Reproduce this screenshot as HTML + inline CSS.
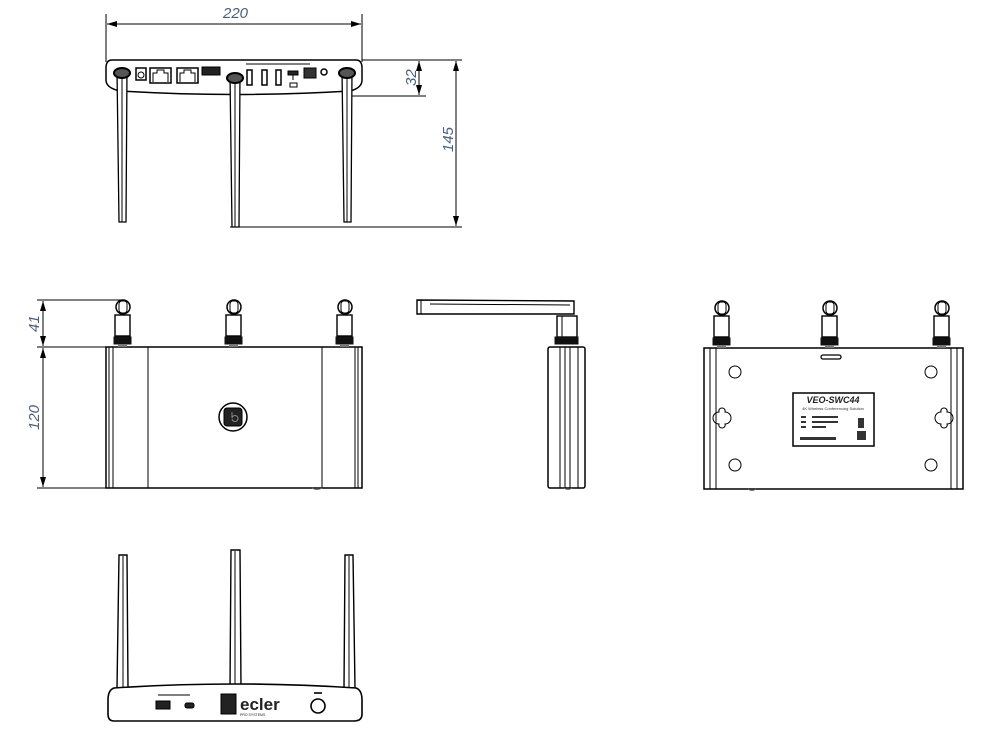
<!DOCTYPE html>
<html><head><meta charset="utf-8"><style>
html,body{margin:0;padding:0;background:#fff;}
svg{display:block;}
.d{font-family:"Liberation Sans",sans-serif;font-style:italic;fill:#4a5f7a;font-size:15px;}
</style></head><body>
<svg width="1000" height="733" viewBox="0 0 1000 733" xmlns="http://www.w3.org/2000/svg">
<defs>
<marker id="a" markerWidth="10" markerHeight="6" refX="10" refY="3" orient="auto" markerUnits="userSpaceOnUse"><path d="M0,0 L10,3 L0,6 Z" fill="#000"/></marker>
<marker id="b" markerWidth="10" markerHeight="6" refX="0" refY="3" orient="auto" markerUnits="userSpaceOnUse"><path d="M10,0 L0,3 L10,6 Z" fill="#000"/></marker>
</defs>
<g stroke="#000" fill="none" stroke-width="1">
<!-- TOP VIEW -->
<line x1="106" y1="14" x2="106" y2="62"/><line x1="362" y1="14" x2="362" y2="62"/>
<line x1="107" y1="24" x2="361" y2="24" marker-start="url(#b)" marker-end="url(#a)"/>
<path d="M112,60 L356,60 Q362,60 362,68 L362,80 Q362,88 350,91 Q235,98 120,91 Q106,88 106,80 L106,68 Q106,60 112,60 Z" stroke-width="1.5"/>
<line x1="362" y1="60" x2="462" y2="60"/><line x1="345" y1="96" x2="426" y2="96"/>
<line x1="419" y1="61" x2="419" y2="95" marker-start="url(#b)" marker-end="url(#a)"/>
<line x1="456" y1="61" x2="456" y2="226" marker-start="url(#b)" marker-end="url(#a)"/>
<line x1="230" y1="227" x2="462" y2="227"/>
<!-- ports -->
<rect x="136" y="68" width="10" height="12" stroke-width="1.5"/><circle cx="141" cy="75" r="3"/>
<rect x="150" y="68" width="21" height="15" stroke-width="1.5"/><path d="M153,82 L153,73 L157,73 L157,70 L164,70 L164,73 L168,73 L168,82"/>
<rect x="177" y="68" width="21" height="15" stroke-width="1.5"/><path d="M180,82 L180,73 L184,73 L184,70 L191,70 L191,73 L195,73 L195,82"/>
<rect x="202" y="67" width="18" height="8" fill="#222"/>
<rect x="247" y="70" width="5" height="15" stroke-width="1.5"/><rect x="262" y="70" width="5" height="15" stroke-width="1.5"/><rect x="276" y="70" width="5" height="15" stroke-width="1.5"/>
<line x1="246" y1="64" x2="310" y2="64"/>
<rect x="288" y="71" width="10" height="4" fill="#222"/><line x1="293" y1="75" x2="293" y2="80"/><rect x="290" y="83" width="7" height="4"/>
<rect x="304" y="68" width="12" height="10" fill="#333"/><circle cx="324" cy="72" r="3" stroke-width="1.5"/>
<!-- antennas top -->
<path d="M117,70 L127,70 L126,222 L119,222 Z" fill="#fff" stroke-width="1.3"/><line x1="122" y1="72" x2="122" y2="222"/>
<path d="M230,75 L240,75 L239,227 L232,227 Z" fill="#fff" stroke-width="1.3"/><line x1="235" y1="77" x2="235" y2="227"/>
<path d="M342,70 L352,70 L351,222 L344,222 Z" fill="#fff" stroke-width="1.3"/><line x1="347" y1="72" x2="347" y2="222"/>
<ellipse cx="122" cy="73" rx="8" ry="5" stroke-width="2" fill="#555"/><ellipse cx="235" cy="78" rx="8" ry="5" stroke-width="2" fill="#555"/><ellipse cx="347" cy="73" rx="8" ry="5" stroke-width="2" fill="#555"/>

<!-- MIDDLE ROW -->
<line x1="37" y1="300" x2="122" y2="300"/><line x1="37" y1="347" x2="106" y2="347"/><line x1="37" y1="488" x2="106" y2="488"/>
<line x1="43" y1="301" x2="43" y2="346" marker-start="url(#b)" marker-end="url(#a)"/>
<line x1="43" y1="348" x2="43" y2="487" marker-start="url(#b)" marker-end="url(#a)"/>
<rect x="106" y="347" width="256" height="141" stroke-width="1.5"/>
<line x1="109" y1="347" x2="109" y2="488"/><line x1="113" y1="347" x2="113" y2="488"/><line x1="148" y1="347" x2="148" y2="488"/>
<line x1="322" y1="347" x2="322" y2="488"/><line x1="355" y1="347" x2="355" y2="488"/><line x1="358" y1="347" x2="358" y2="488"/>
<circle cx="233" cy="417" r="14" stroke-width="1.5"/><rect x="224" y="408" width="18" height="18" rx="3" fill="#222"/>
<path d="M232,412 v6 a3,3 0 1,1 0,1" stroke="#888"/>
<path d="M312,488 q5,3 10,0" stroke="#666"/>
<g id="ant">
<circle cx="123" cy="307" r="7" stroke-width="1.5"/><rect x="119" y="301" width="8" height="12" rx="3"/>
<rect x="115" y="315" width="15" height="21" fill="#fff" stroke-width="1.4"/>
<rect x="114" y="337" width="17" height="7" fill="#111" stroke="#111"/>
<rect x="118" y="344" width="9" height="3" fill="#777" stroke="none"/>
</g>
<use href="#ant" x="111"/><use href="#ant" x="222"/>

<!-- SIDE VIEW -->
<path d="M417,300 L574,301 L574,314 L417,314 Z" fill="#fff" stroke-width="1.4"/>
<line x1="421" y1="300" x2="421" y2="314"/><line x1="430" y1="304" x2="570" y2="305"/>
<rect x="557" y="316" width="20" height="21" stroke-width="1.4"/><line x1="562" y1="316" x2="562" y2="337"/>
<rect x="555" y="337" width="23" height="7" fill="#111" stroke="#111"/>
<rect x="548" y="347" width="37" height="141" rx="2" stroke-width="1.5"/>
<line x1="560" y1="347" x2="560" y2="488"/><line x1="565" y1="347" x2="565" y2="488"/><line x1="570" y1="347" x2="570" y2="488"/><line x1="578" y1="347" x2="578" y2="488"/>
<path d="M564,488 q4,3 8,0" stroke="#666"/>

<!-- BOTTOM VIEW RIGHT -->
<rect x="704" y="348" width="259" height="141" stroke-width="1.5"/>
<line x1="710" y1="348" x2="710" y2="489"/><line x1="716" y1="348" x2="716" y2="489"/>
<line x1="951" y1="348" x2="951" y2="489"/><line x1="957" y1="348" x2="957" y2="489"/>
<rect x="821" y="355" width="20" height="4" rx="2" stroke-width="1.3"/>
<circle cx="735" cy="372" r="6"/><circle cx="931" cy="372" r="6"/><circle cx="735" cy="465" r="6"/><circle cx="931" cy="465" r="6"/>
<path d="M722,408 a3,3 0 0,1 3,4 a5,5 0 0,1 0,12 a3,3 0 0,1 -3,4 a3,3 0 0,1 -3,-4 a5,5 0 0,1 0,-12 a3,3 0 0,1 3,-4 Z"/>
<path d="M944,408 a3,3 0 0,1 3,4 a5,5 0 0,1 0,12 a3,3 0 0,1 -3,4 a3,3 0 0,1 -3,-4 a5,5 0 0,1 0,-12 a3,3 0 0,1 3,-4 Z"/>
<rect x="793" y="393" width="81" height="53" stroke-width="1.5"/>
<rect x="801" y="416" width="5" height="2" fill="#333" stroke="none"/><rect x="812" y="416" width="26" height="2" fill="#333" stroke="none"/>
<rect x="801" y="421" width="5" height="2" fill="#333" stroke="none"/><rect x="812" y="421" width="26" height="2" fill="#333" stroke="none"/>
<rect x="801" y="426" width="5" height="2" fill="#333" stroke="none"/><rect x="812" y="426" width="14" height="2" fill="#333" stroke="none"/>
<rect x="800" y="437" width="36" height="3" fill="#333" stroke="none"/>
<rect x="858" y="418" width="6" height="10" fill="#333" stroke="none"/><rect x="857" y="431" width="9" height="9" fill="#333" stroke="none"/>
<use href="#ant" x="599" y="1"/><use href="#ant" x="707" y="1"/><use href="#ant" x="819" y="1"/>
<path d="M748,489 q4,3 8,0" stroke="#666"/>

<!-- REAR VIEW BOTTOM -->
<path d="M119,555 L127,555 L128,688 L117,688 Z" fill="#fff" stroke-width="1.4"/><line x1="123" y1="556" x2="123" y2="688"/>
<path d="M231,550 L240,550 L241,688 L230,688 Z" fill="#fff" stroke-width="1.4"/><line x1="235" y1="551" x2="235" y2="688"/>
<path d="M345,555 L353,555 L355,688 L344,688 Z" fill="#fff" stroke-width="1.4"/><line x1="349" y1="556" x2="349" y2="688"/>
<path d="M114,688 Q235,680 356,688 Q362,690 362,700 L362,714 Q362,721 354,721 L114,721 Q108,721 108,714 L108,700 Q108,690 114,688 Z" fill="#fff" stroke-width="1.6"/>
<line x1="158" y1="695" x2="190" y2="695"/>
<rect x="156" y="701" width="14" height="8" fill="#222"/><rect x="185" y="703" width="9" height="5" rx="2" fill="#222"/>
<rect x="221" y="694" width="15" height="20" fill="#222"/>
<circle cx="318" cy="706" r="7" stroke-width="1.6"/><rect x="314" y="692" width="8" height="2" fill="#333" stroke="none"/>
</g>
<text x="240" y="710" font-family="Liberation Sans,sans-serif" font-weight="bold" font-size="17" fill="#222">ecler</text>
<text x="240" y="716" font-family="Liberation Sans,sans-serif" font-size="3.5" fill="#222">PRO SYSTEMS</text>
<text x="833" y="403" text-anchor="middle" font-family="Liberation Sans,sans-serif" font-weight="bold" font-style="italic" font-size="9" fill="#222">VEO-SWC44</text>
<text x="833" y="410" text-anchor="middle" font-family="Liberation Sans,sans-serif" font-size="4" fill="#333">4K Wireless Conferencing Solution</text>
<text class="d" x="223" y="18">220</text>
<text class="d" transform="translate(416,86) rotate(-90)">32</text>
<text class="d" transform="translate(453,152) rotate(-90)">145</text>
<text class="d" transform="translate(39,332) rotate(-90)">41</text>
<text class="d" transform="translate(39,430) rotate(-90)">120</text>
</svg>
</body></html>
